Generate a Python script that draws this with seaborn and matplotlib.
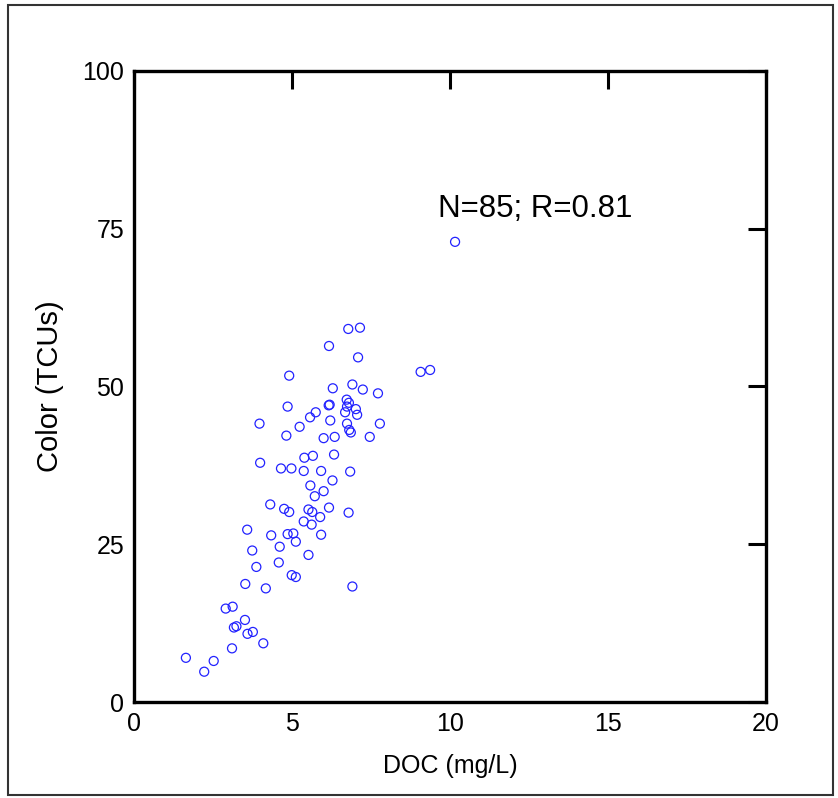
import pandas as pd
import matplotlib.pyplot as plt
import seaborn as sns
from matplotlib.patches import Rectangle

# DOC (mg/L) and color (TCUs)
doc = [6.78, 7.15, 6.17, 7.09, 4.91, 6.91, 6.29, 7.24, 7.72, 6.73,
       6.80, 4.86, 6.16, 6.19, 7.02, 5.75, 5.57, 6.68, 6.74, 7.06,
       6.21, 3.97, 6.74, 7.78, 5.24, 6.81, 6.86, 4.82, 6.00, 6.35,
       7.46, 5.39, 5.66, 6.33, 3.99, 4.65, 4.98, 5.37, 5.92, 6.84,
       5.58, 6.28, 6.00, 5.72, 4.31, 4.75, 4.91, 5.52, 5.64, 6.17,
       5.89, 6.79, 5.37, 5.62, 3.58, 4.34, 4.86, 5.04, 5.92, 5.12,
       4.61, 3.74, 5.52, 4.58, 3.87, 4.99, 5.12, 3.52, 4.17, 6.91,
       2.90, 3.12, 3.51, 3.16, 3.24, 3.59, 3.76, 4.09, 3.10, 1.64,
       2.52, 2.22, 10.16, 9.07, 9.37]
color = [59.1, 59.3, 56.4, 54.6, 51.7, 50.3, 49.7, 49.5, 48.9, 47.9,
         47.4, 46.8, 47.0, 47.1, 46.4, 45.9, 45.1, 45.9, 46.8, 45.5,
         44.6, 44.1, 44.1, 44.1, 43.6, 43.1, 42.7, 42.2, 41.8, 42.0,
         42.0, 38.7, 39.0, 39.2, 37.9, 37.0, 37.0, 36.6, 36.6, 36.5,
         34.3, 35.1, 33.4, 32.6, 31.3, 30.6, 30.1, 30.5, 30.1, 30.8,
         29.3, 30.0, 28.6, 28.1, 27.3, 26.4, 26.6, 26.7, 26.5, 25.4,
         24.6, 24.0, 23.3, 22.1, 21.4, 20.1, 19.8, 18.7, 18.0, 18.3,
         14.8, 15.1, 13.0, 11.8, 12.0, 10.8, 11.1, 9.3, 8.5, 7.0,
         6.5, 4.8, 72.9, 52.3, 52.6]
x_ticks = [0, 5, 10, 15, 20]
y_ticks = [0, 25, 50, 75, 100]

df = pd.DataFrame({'DOC': doc, 'Color': color})

sns.set_style('white')
plt.rcParams['font.family'] = ['Liberation Sans', 'DejaVu Sans']
plt.rcParams['text.color'] = 'black'
plt.rcParams['axes.labelcolor'] = 'black'
plt.rcParams['xtick.color'] = 'black'
plt.rcParams['ytick.color'] = 'black'

fig = plt.figure(figsize=(8.38, 7.98), dpi=100)
ax = fig.add_axes([0.160, 0.1203, 0.754, 0.791])

sns.scatterplot(data=df, x='DOC', y='Color', ax=ax, marker='o', s=42,
                facecolor='none', edgecolor='#2222ff', linewidth=0.9)

ax.set_xlim(0, 20)
ax.set_ylim(0, 100)
ax.set_xticks(x_ticks)
ax.set_yticks(y_ticks)
ax.tick_params(direction='in', length=13, width=2.2, labelsize=18,
               top=True, right=True, pad=7)
for s in ax.spines.values():
    s.set_linewidth(2.4)
    s.set_color('black')

ax.set_xlabel('DOC (mg/L)', fontsize=18, labelpad=13)
ax.set_ylabel('Color (TCUs)', fontsize=21, labelpad=13)
ax.text(9.62, 76.9, 'N=85; R=0.81', fontsize=22.5, va='baseline')

# figure border
fig.patches.append(Rectangle((0.010, 0.004), 0.984, 0.99, transform=fig.transFigure,
                             fill=False, edgecolor='#333333', linewidth=1.5))

fig.savefig('out.png', dpi=100)
